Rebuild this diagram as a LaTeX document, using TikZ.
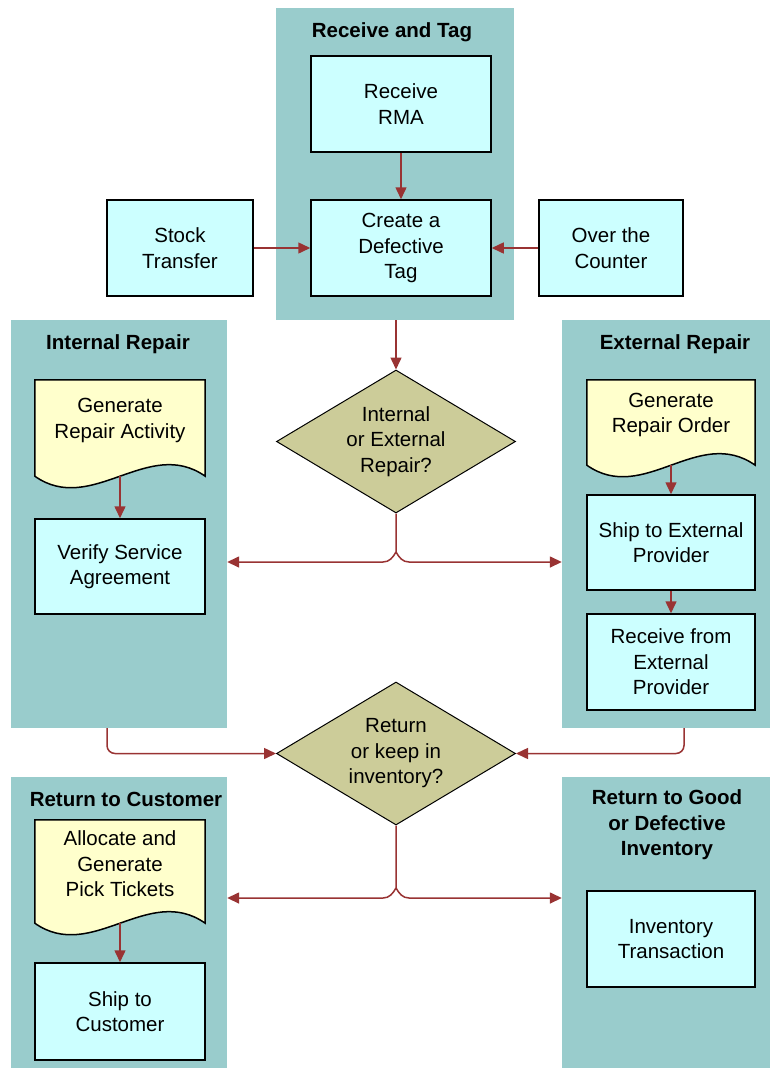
\documentclass[tikz,border=0pt]{standalone}
\usepackage{fontspec}
\setmainfont{Liberation Sans}
\usepackage{tikz}
\usetikzlibrary{arrows.meta, positioning, shapes.geometric, calc}
\definecolor{lanecolor}{HTML}{99CCCC}
\definecolor{boxcolor}{HTML}{CCFFFF}
\definecolor{doccolor}{HTML}{FFFFCC}
\definecolor{decisioncolor}{HTML}{CCCC99}
\definecolor{arrowred}{HTML}{993333}
\pgfdeclarelayer{lanes}
\pgfdeclarelayer{docs}
\pgfsetlayers{lanes,docs,main}
\newcommand{\flowfont}{\fontsize{20.5}{25.5}\selectfont}
\tikzstyle{lane} = [rectangle, fill=lanecolor, inner sep=0pt, minimum width=216pt]
\tikzstyle{title} = [align=center, font=\flowfont\bfseries]
\tikzstyle{box} = [rectangle, draw=black, line width=1.5pt, fill=boxcolor, align=center, inner sep=0pt, minimum width=170pt, minimum height=96pt]
\tikzstyle{doc} = [rectangle, align=center, inner sep=0pt, minimum width=170pt]
\tikzstyle{docline} = [draw=black, line width=1.5pt, fill=doccolor]
\tikzstyle{decision} = [diamond, draw=black, line width=1pt, fill=decisioncolor, align=center, inner sep=0pt, aspect=1.67, minimum width=239pt, minimum height=143pt]
\tikzstyle{arrow} = [line width=1.5pt, draw=arrowred, -{Triangle[length=12pt, width=11pt]}]
% outline of a document node, with a point on its wavy edge
\newcommand{\docwave}[1]{%
  \filldraw [docline] (#1.north west) -- (#1.north east) -- ($(#1.south east)+(0,15)$)
    .. controls ($(#1.south east)+(-57,-25)$) and ($(#1.south west)+(57,55)$) .. ($(#1.south west)+(0,15)$) -- cycle;
  \coordinate (#1-w) at ($(#1.south)+(0,15)$);}

\begin{document}
\begin{tikzpicture}[x=1pt, y=-1pt, font=\flowfont]
  \useasboundingbox (0,0) rectangle (769,1068);
  % Lanes
  \begin{pgfonlayer}{lanes}
    \fill [white] (0,0) rectangle (769,1068);
    \node (recvlane) [lane, minimum width=238pt, minimum height=312pt] at (395,164) {};
    \node (intlane) [lane, minimum height=408pt] at (119,524) {};
    \node (extlane) [lane, minimum height=408pt] at (670,524) {};
    \node (custlane) [lane, minimum height=300pt] at (119,927) {};
    \node (invlane) [lane, minimum height=300pt] at (670,927) {};
  \end{pgfonlayer}
  % Titles
  \node (recvtitle) [title] at (392,32) {Receive and Tag};
  \node (inttitle) [title] at (118,344) {Internal Repair};
  \node (exttitle) [title] at (675,344) {External Repair};
  \node (custtitle) [title] at (126,799) {Return to Customer};
  \node (invtitle) [title] at (667,825) {Return to Good\\or Defective\\Inventory};
  % Receive and Tag
  \node (rma) [box, minimum width=180pt] at (401,104) {Receive\\RMA};
  \node (tag) [box, minimum width=180pt] at (401,248) {Create a\\Defective\\Tag};
  \node (stock) [box, minimum width=146pt] at (180,248) {Stock\\Transfer};
  \node (counter) [box, minimum width=144pt] at (611,248) {Over the\\Counter};
  % Decisions
  \node (repairtype) [decision] at (396,441.5) {Internal\\or External\\Repair?};
  \node (returntype) [decision] at (396,753.5) {Return\\or keep in\\inventory?};
  % Internal Repair
  \node (genact) [doc, minimum height=81pt] at (120,420.5) {Generate\\Repair Activity};
  \node (verify) [box, minimum height=95pt] at (120,566.5) {Verify Service\\Agreement};
  % External Repair
  \node (genord) [doc, minimum width=168pt, minimum height=70pt] at (671,415) {Generate\\Repair Order};
  \node (shipext) [box, minimum width=168pt, minimum height=95pt] at (671,542.5) {Ship to External\\Provider};
  \node (recvext) [box, minimum width=168pt] at (671,662) {Receive from\\External\\Provider};
  % Return to Customer
  \node (alloc) [doc, minimum height=88pt] at (120,864) {Allocate and\\Generate\\Pick Tickets};
  \node (shipcust) [box, minimum height=97pt] at (120,1011.5) {Ship to\\Customer};
  % Return to Good or Defective Inventory
  \node (invtx) [box, minimum width=168pt] at (671,939) {Inventory\\Transaction};
  % Documents
  \begin{pgfonlayer}{docs}
    \docwave{genact}
    \docwave{genord}
    \docwave{alloc}
  \end{pgfonlayer}
  % Forks
  \coordinate (fork1) at (396,562);
  \coordinate (fork2) at (396,898);
  % Arrows
  \draw [arrow] (rma.south) -- (tag.north);
  \draw [arrow] (stock.east) -- (tag.west);
  \draw [arrow] (counter.west) -- (tag.east);
  \draw [arrow] (recvlane.south -| repairtype.north) -- (repairtype.north);
  \draw [arrow] (repairtype.south) -- ([yshift=10pt]fork1) to[out=-120, in=0] ([xshift=-13pt]fork1) -- (intlane.east |- fork1);
  \draw [arrow] ([yshift=10pt]fork1) to[out=-60, in=180] ([xshift=13pt]fork1) -- (extlane.west |- fork1);
  \draw [arrow] (genact-w) -- (verify.north);
  \draw [arrow] (genord-w) -- (shipext.north);
  \draw [arrow] (shipext.south) -- (recvext.north);
  \draw [arrow, rounded corners=8pt] ([xshift=-12pt]intlane.south) |- (returntype.west);
  \draw [arrow, rounded corners=8pt] ([xshift=14pt]extlane.south) |- (returntype.east);
  \draw [arrow] (returntype.south) -- ([yshift=10pt]fork2) to[out=-120, in=0] ([xshift=-13pt]fork2) -- (custlane.east |- fork2);
  \draw [arrow] ([yshift=10pt]fork2) to[out=-60, in=180] ([xshift=13pt]fork2) -- (invlane.west |- fork2);
  \draw [arrow] (alloc-w) -- (shipcust.north);
\end{tikzpicture}
\end{document}
